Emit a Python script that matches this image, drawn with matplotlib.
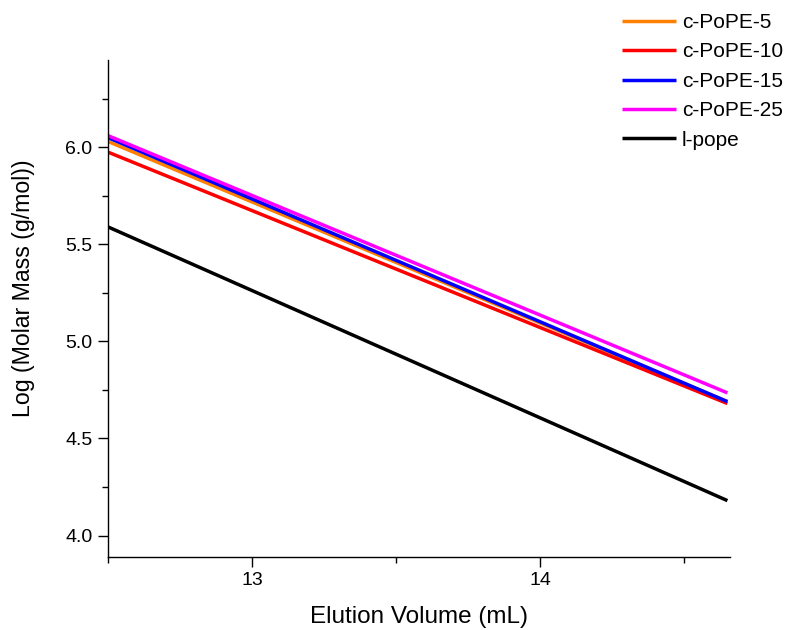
import numpy as np
import matplotlib.pyplot as plt
from matplotlib.ticker import MultipleLocator

plt.rcParams['font.family'] = ['Liberation Sans', 'DejaVu Sans']

# elution volume range (mL)
vol = [12.5, 14.65]

names = ["c-PoPE-5", "c-PoPE-10", "c-PoPE-15", "c-PoPE-25", "l-pope"]
colors = ["#ff7f00", "#ff0000", "#0000ff", "#ff00ff", "#000000"]
logm_c5 = [6.03, 4.69]
logm_c10 = [5.975, 4.68]
logm_c15 = [6.05, 4.69]
logm_c25 = [6.06, 4.735]
logm_lin = [5.59, 4.18]
series = [logm_c5, logm_c10, logm_c15, logm_c25, logm_lin]

fig = plt.figure(figsize=(7.99, 6.30), dpi=100)
ax = fig.add_axes([0.135, 0.116, 0.779, 0.789])

for nm, c, ys in zip(names, colors, series):
    ax.plot(vol, ys, color=c, lw=2.5, label=nm, solid_capstyle='butt')

ax.set_xlim(12.5, 14.66)
ax.set_ylim(3.89, 6.45)
ax.xaxis.set_major_locator(MultipleLocator(1))
ax.xaxis.set_minor_locator(MultipleLocator(0.5))
ax.yaxis.set_major_locator(MultipleLocator(0.5))
ax.yaxis.set_minor_locator(MultipleLocator(0.25))
ax.tick_params(which='major', direction='out', length=7, width=1, labelsize=14, pad=4)
ax.tick_params(which='minor', direction='out', length=4, width=1)
for s in ['top', 'right']:
    ax.spines[s].set_visible(False)
for s in ['left', 'bottom']:
    ax.spines[s].set_linewidth(1)

ax.set_xlabel("Elution Volume (mL)", fontsize=17.5, labelpad=12)
ax.set_ylabel("Log (Molar Mass (g/mol))", fontsize=16.7, labelpad=22)
ax.yaxis.label.set_y(0.54)

leg = ax.legend(loc='upper left', bbox_to_anchor=(0.812, 1.111), frameon=False,
                fontsize=15, handlelength=2.6, handletextpad=0.3, labelspacing=0.5,
                borderaxespad=0)

fig.savefig("out.png", dpi=100)
